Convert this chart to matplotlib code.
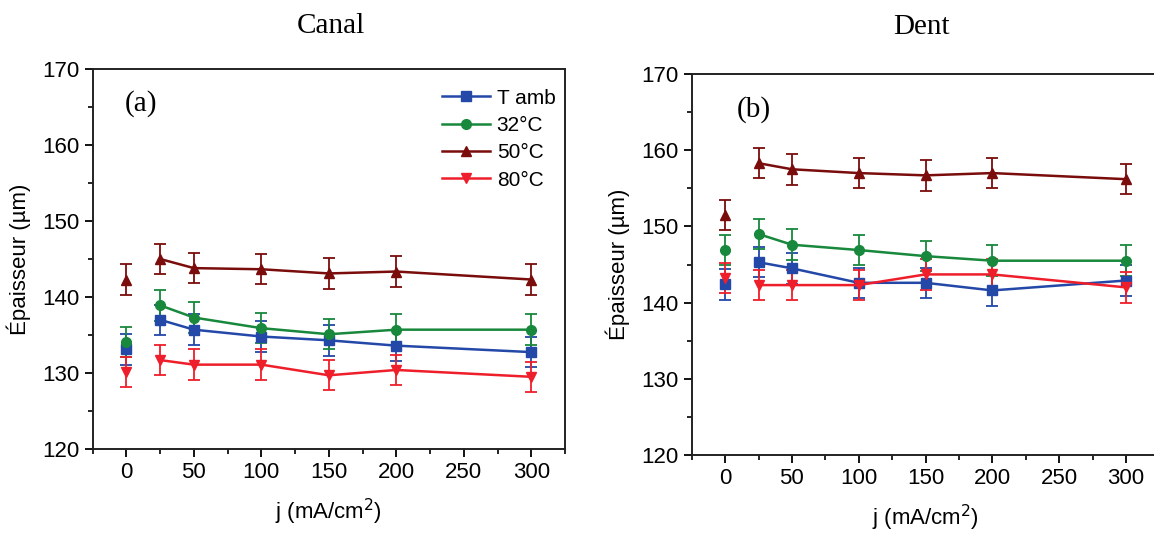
import matplotlib
matplotlib.use("Agg")
from matplotlib import pyplot as plt
from matplotlib.lines import Line2D
from matplotlib.ticker import MultipleLocator

plt.rcParams['font.family'] = ['Liberation Sans', 'DejaVu Sans']

# Densité de courant (mA/cm2)
j = [0, 25, 50, 100, 150, 200, 300]

# Canal (a)
canal_tamb = [133.1, 137.0, 135.7, 134.8, 134.3, 133.6, 132.75]
canal_32 = [134.1, 138.9, 137.3, 135.9, 135.1, 135.7, 135.7]
canal_50 = [142.3, 145.0, 143.8, 143.65, 143.1, 143.35, 142.3]
canal_80 = [130.1, 131.7, 131.1, 131.1, 129.7, 130.4, 129.5]

# Dent (b)
dent_tamb = [142.4, 145.3, 144.5, 142.6, 142.6, 141.6, 142.9]
dent_32 = [146.9, 149.0, 147.6, 146.9, 146.1, 145.5, 145.5]
dent_50 = [151.5, 158.3, 157.5, 157.0, 156.7, 157.0, 156.2]
dent_80 = [143.2, 142.3, 142.3, 142.3, 143.7, 143.7, 142.0]

# barres d'erreur
err = [2.0, 2.0, 2.0, 2.0, 2.0, 2.0, 2.0]

labels = ["T amb", "32°C", "50°C", "80°C"]
colors = ["#2348a8", "#18883c", "#7a0c0c", "#ee1f2b"]
markers = ["s", "o", "^", "v"]

FS = 16


def draw_panel(ax, series, tag, tag_x):
    for vals, col, mk in zip(series, colors, markers):
        # point à j=0 isolé (non relié)
        ax.errorbar(j[:1], vals[:1], yerr=err[:1], color=col, marker=mk,
                    markersize=7, linestyle="none", capsize=4, elinewidth=1.3,
                    capthick=1.3, ecolor=col)
        ax.errorbar(j[1:], vals[1:], yerr=err[1:], color=col, marker=mk,
                    markersize=7, linewidth=1.8, capsize=4, elinewidth=1.3,
                    capthick=1.3, ecolor=col)
    ax.set_xlim(-25, 325)
    ax.set_ylim(120, 170)
    ax.xaxis.set_major_locator(MultipleLocator(50))
    ax.xaxis.set_minor_locator(MultipleLocator(25))
    ax.yaxis.set_major_locator(MultipleLocator(10))
    ax.yaxis.set_minor_locator(MultipleLocator(5))
    ax.tick_params(which="major", direction="out", length=6, width=1.3,
                   labelsize=FS, top=False, right=False)
    ax.tick_params(which="minor", direction="out", length=3.5, width=1.2,
                   top=False, right=False)
    for s in ax.spines.values():
        s.set_linewidth(1.4)
        s.set_color("#222222")
    ax.set_ylabel("Épaisseur (µm)", fontsize=FS, labelpad=8)
    ax.set_xlabel("j (mA/cm$^2$)", fontsize=FS, labelpad=10)
    ax.text(tag_x, 0.908, tag, transform=ax.transAxes, fontsize=21,
            family="Liberation Serif", ha="left", va="center")


fig = plt.figure(figsize=(11.54, 5.36), dpi=100)
ax1 = fig.add_axes([0.0803, 0.1623, 0.4093, 0.709])
ax2 = fig.add_axes([0.5994, 0.1511, 0.4052, 0.7108])

draw_panel(ax1, [canal_tamb, canal_32, canal_50, canal_80], "(a)", 0.068)
draw_panel(ax2, [dent_tamb, dent_32, dent_50, dent_80], "(b)", 0.097)

handles = [Line2D([], [], color=c, marker=m, markersize=7, linewidth=1.8)
           for c, m in zip(colors, markers)]
ax1.legend(handles, labels, loc="upper left", bbox_to_anchor=(0.723, 0.97),
           frameon=False, fontsize=15, handlelength=2.3, labelspacing=0.4,
           handletextpad=0.3, borderaxespad=0)

fig.text(331 / 1154, 1 - 26 / 536, "Canal", fontsize=21,
         family="Liberation Serif", ha="center", va="center")
fig.text(921 / 1154, 1 - 27 / 536, "Dent", fontsize=21,
         family="Liberation Serif", ha="center", va="center")

fig.savefig("out.png", dpi=100)
